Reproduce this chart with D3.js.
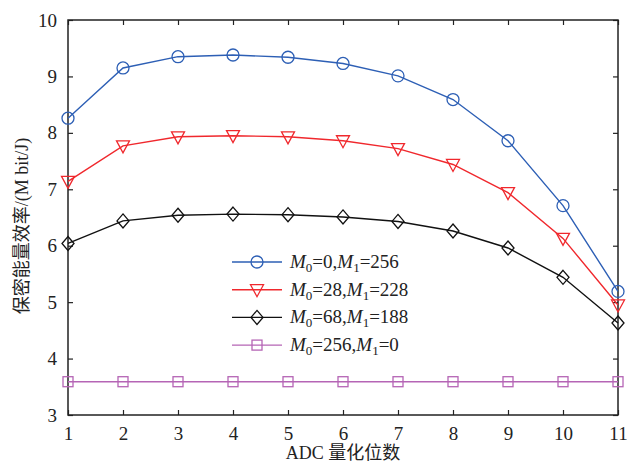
<!DOCTYPE html>
<html>
<head>
<meta charset="utf-8">
<script src="https://cdn.jsdelivr.net/npm/d3@7"></script>
<style>
  body { margin: 0; background: #fff; }
</style>
</head>
<body>
<svg id="chart" width="635" height="464"></svg>
<script>
// data
const bits = [1, 2, 3, 4, 5, 6, 7, 8, 9, 10, 11];
const m0_0 = [8.26, 9.15, 9.35, 9.38, 9.34, 9.23, 9.01, 8.59, 7.86, 6.71, 5.19];
const m0_28 = [7.14, 7.77, 7.93, 7.95, 7.93, 7.86, 7.72, 7.44, 6.94, 6.13, 4.95];
const m0_68 = [6.04, 6.44, 6.54, 6.56, 6.55, 6.51, 6.43, 6.26, 5.96, 5.44, 4.63];
const m0_256 = [3.59, 3.59, 3.59, 3.59, 3.59, 3.59, 3.59, 3.59, 3.59, 3.59, 3.59];
const xTicks = [1, 2, 3, 4, 5, 6, 7, 8, 9, 10, 11];
const yTicks = [3, 4, 5, 6, 7, 8, 9, 10];

const series = [
  { m0: "0", m1: "256", values: m0_0, color: "#2d5fb5", marker: "circle" },
  { m0: "28", m1: "228", values: m0_28, color: "#f0282d", marker: "triangle" },
  { m0: "68", m1: "188", values: m0_68, color: "#111", marker: "diamond" },
  { m0: "256", m1: "0", values: m0_256, color: "#b565b5", marker: "square" }
];

const serifFont = "'Liberation Serif', 'DejaVu Serif', serif";
const cjkFont = "'Liberation Serif', 'Noto Sans CJK SC', serif";

let margin = { top: 20, right: 17, bottom: 49, left: 68 },
  width = 635 - margin.left - margin.right,
  height = 464 - margin.top - margin.bottom;

const svg = d3.select("#chart");
const g = svg.append("g").attr("transform", "translate(" + margin.left + "," + margin.top + ")");

const x = d3.scaleLinear().domain([1, 11]).range([0, width]);
const y = d3.scaleLinear().domain([3, 10]).range([height, 0]);

// axes, ticks pointing inwards on all four sides
const tickLen = 5;
g.append("g")
  .attr("transform", "translate(0," + height + ")")
  .call(d3.axisBottom(x).tickValues(xTicks).tickFormat(d3.format("d")).tickSizeInner(-tickLen).tickSizeOuter(0).tickPadding(12))
  .call(a => a.select(".domain").remove());
g.append("g")
  .call(d3.axisTop(x).tickValues(xTicks).tickSizeInner(-tickLen).tickSizeOuter(0).tickFormat(""))
  .call(a => a.select(".domain").remove());
g.append("g")
  .call(d3.axisLeft(y).tickValues(yTicks).tickFormat(d3.format("d")).tickSizeInner(-tickLen).tickSizeOuter(0).tickPadding(11))
  .call(a => a.select(".domain").remove());
g.append("g")
  .attr("transform", "translate(" + width + ",0)")
  .call(d3.axisRight(y).tickValues(yTicks).tickSizeInner(-tickLen).tickSizeOuter(0).tickFormat(""))
  .call(a => a.select(".domain").remove());

g.selectAll(".tick line").attr("stroke", "#222").attr("stroke-width", 1.2);
g.selectAll(".tick text")
  .style("font-family", serifFont)
  .style("font-size", "19px")
  .attr("fill", "#222");

g.append("rect")
  .attr("width", width)
  .attr("height", height)
  .attr("fill", "none")
  .attr("stroke", "#222")
  .attr("stroke-width", 1.5);

// marker drawing
function drawMarker(sel, type, color) {
  if (type === "circle") {
    sel.append("circle").attr("r", 6);
  } else if (type === "triangle") {
    sel.append("path").attr("d", "M-6.5,-5L6.5,-5L0,7Z");
  } else if (type === "diamond") {
    sel.append("path").attr("d", "M0,-7L6,0L0,7L-6,0Z");
  } else {
    sel.append("rect").attr("x", -5).attr("y", -5).attr("width", 10).attr("height", 10);
  }
  sel.selectAll("*").attr("fill", "none").attr("stroke", color).attr("stroke-width", 1.3);
}

const line = d3.line()
  .x((d, i) => x(bits[i]))
  .y(d => y(d));

series.forEach(s => {
  g.append("path")
    .datum(s.values)
    .attr("fill", "none")
    .attr("stroke", s.color)
    .attr("stroke-width", 1.4)
    .attr("d", line);

  s.values.forEach((v, i) => {
    const m = g.append("g").attr("transform", "translate(" + x(bits[i]) + "," + y(v) + ")");
    drawMarker(m, s.marker, s.color);
  });
});

// legend
const legend = g.append("g").attr("transform", "translate(164,242)");
series.forEach((s, i) => {
  const row = legend.append("g").attr("transform", "translate(0," + i * 27.7 + ")");
  row.append("line")
    .attr("x1", 0).attr("x2", 50)
    .attr("stroke", s.color)
    .attr("stroke-width", 1.4);
  const m = row.append("g").attr("transform", "translate(25,0)");
  drawMarker(m, s.marker, s.color);
  const t = row.append("text")
    .attr("x", 58)
    .attr("y", 6)
    .attr("fill", "#222")
    .style("font-family", serifFont)
    .style("font-size", "19px");
  t.append("tspan").style("font-style", "italic").text("M");
  t.append("tspan").attr("dy", 4).style("font-size", "13px").text("0");
  t.append("tspan").attr("dy", -4).text("=" + s.m0 + ",");
  t.append("tspan").style("font-style", "italic").text("M");
  t.append("tspan").attr("dy", 4).style("font-size", "13px").text("1");
  t.append("tspan").attr("dy", -4).text("=" + s.m1);
});

// axis titles
svg.append("text")
  .attr("x", margin.left + width / 2)
  .attr("y", 459)
  .attr("text-anchor", "middle")
  .attr("fill", "#222")
  .style("font-family", cjkFont)
  .style("font-size", "18px")
  .text("ADC 量化位数");

svg.append("text")
  .attr("transform", "translate(28,226) rotate(-90)")
  .attr("text-anchor", "middle")
  .attr("fill", "#222")
  .style("font-family", cjkFont)
  .style("font-size", "18px")
  .text("保密能量效率/(M bit/J)");
</script>
</body>
</html>
